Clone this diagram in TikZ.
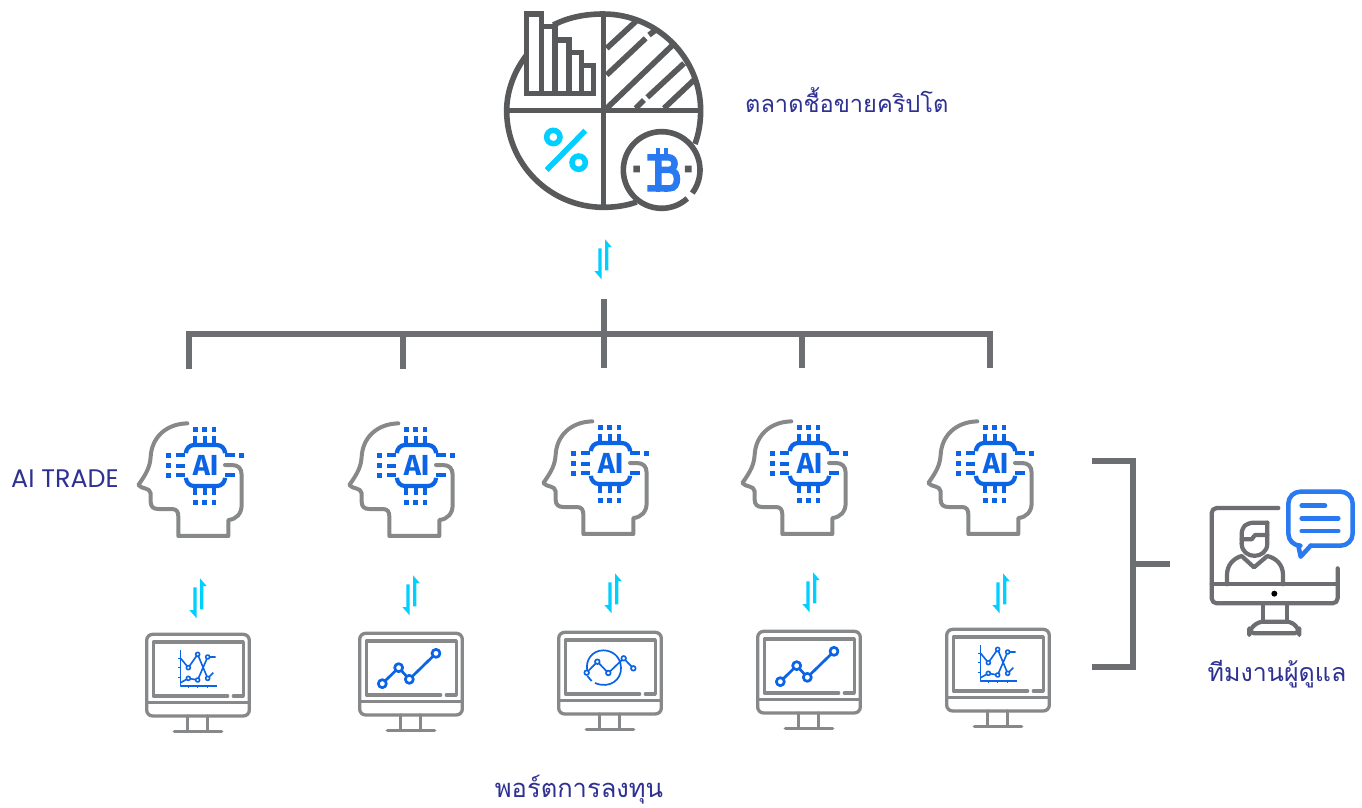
\documentclass[tikz,border=0pt]{standalone}
\usepackage{fontspec}
\setmainfont{Liberation Sans}
\newfontfamily\thaifont[Script=Thai]{Loma}
\newfontfamily\latfont{Poppins}
\newfontfamily\aifont{Fira Sans}
\definecolor{piegray}{HTML}{58595B}
\definecolor{brk}{HTML}{6D6E71}
\definecolor{icongray}{HTML}{87888A}
\definecolor{chipblue}{HTML}{0B63E5}
\definecolor{btcblue}{HTML}{2979F0}
\definecolor{cyanc}{HTML}{00CFFF}
\definecolor{labelc}{HTML}{2E3192}
\tikzset{
  lab/.style={text=labelc,inner sep=0pt},
  thailab/.style={lab,font=\thaifont\fontsize{24.5}{28}\selectfont},
  piel/.style={draw=piegray,line width=5.6pt,line join=miter},
  brkl/.style={draw=brk,line width=6pt},
  headl/.style={draw=icongray,line width=4pt,line join=round,line cap=round},
  scrl/.style={draw=icongray,line width=3.3pt,line join=round,line cap=round},
  chip/.style={draw=chipblue,line width=4.2pt},
  chartl/.style={draw=chipblue,line width=1.4pt,line join=round},
  chartb/.style={draw=chipblue,line width=2.7pt,line join=round},
  chartc/.style={draw=chipblue,line width=1.7pt,line join=round},
  perl/.style={draw=brk,line width=4.2pt,line join=round,line cap=round},
  bubl/.style={draw=btcblue,line width=4.5pt,line join=round,line cap=round},
  zoomed/.style={x=0.3333pt,y=-0.3333pt},
}
\newcommand{\HeadIcon}[3]{%
\begin{scope}[shift={(#1,#2)},zoomed]
 \draw[headl] (172,40) .. controls (105,42) and (65,85) .. (62,140) .. controls (60,170) and (50,190) .. (25,225)
   .. controls (35,238) and (60,232) .. (62,250) -- (62,275) .. controls (62,290) and (70,297) .. (85,297) -- (125,297) .. controls (140,297) and (145,305) .. (145,320)
   -- (145,378) -- (295,378) -- (295,330) .. controls (320,328) and (335,310) .. (335,285) -- (335,195) .. controls (335,175) and (325,165) .. (305,165) -- (285,165);
 \draw[chip,rounded corners=8pt] (168,122) -- (168,105) -- (285,105) -- (285,122);
 \draw[chip,rounded corners=8pt] (168,208) -- (168,228) -- (285,228) -- (285,208);
 \draw[chip] (196,78)--(196,105) (224,78)--(224,105) (252,78)--(252,105)
   (196,228)--(196,255) (224,228)--(224,255) (252,228)--(252,255)
   (138,136)--(166,136) (138,167)--(166,167) (138,196)--(166,196)
   (285,136)--(315,136) (285,196)--(315,196);
 \foreach \p in {196,224,252}{\fill[chipblue] (\p-7,51) rectangle +(14,14); \fill[chipblue] (\p-7,270) rectangle +(14,14);}
 \foreach \p in {136,167,196}{\fill[chipblue] (108,\p-7) rectangle +(15,14);}
 \fill[chipblue] (328,129) rectangle +(15,14);
 \node[inner sep=0pt,text=chipblue,font=\aifont\bfseries\fontsize{29}{29}\selectfont] (#3) at (227,166) {AI};
\end{scope}}
\newcommand{\MonitorBase}{%
 \draw[scrl,rounded corners=6pt] (35,395)--(35,190)--(343,190)--(343,435)--(35,435)--cycle;
 \draw[scrl] (35,395)--(343,395);
 \draw[scrl] (278,375)--(55,375)--(55,213)--(325,213)--(325,375)--(295,375);
 \draw[scrl] (158,435)--(158,480) (218,435)--(218,480) (118,482)--(260,482);
}
\newcommand{\ChartA}{%
 \draw[chartl,line width=1.6pt] (137,237)--(137,345)--(245,345) (130,262)--(137,262) (130,290)--(137,290) (130,320)--(137,320) (160,345)--(160,352) (188,345)--(188,352) (218,345)--(218,352);
 \draw[chartl,line width=1.6pt] (137,262)--(160,290)--(188,250)--(218,322)--(235,305) (137,335)--(160,322)--(188,327)--(218,258)--(242,258);
 \foreach \a/\b in {160/290,188/250,218/322,160/322,188/327,218/258}{\fill[white] (\a,\b) circle[radius=6]; \draw[chartl,line width=1.6pt] (\a,\b) circle[radius=6];}
}
\newcommand{\ChartB}{%
 \draw[chartb] (97,188)--(146,140)--(178,175)--(258,97);
 \foreach \a/\b in {97/188,146/140,178/175,258/97}{\fill[white] (\a,\b) circle[radius=12]; \draw[chartb] (\a,\b) circle[radius=12];}
}
\newcommand{\ChartC}{%
 \draw[chartc] (735,186) .. controls (780,205) and (815,175) .. (813,140) .. controls (812,105) and (785,88) .. (760,88) .. controls (725,88) and (705,120) .. (712,150);
 \draw[chartc] (712,165)--(725,180);
 \draw[chartc] (710,155)--(742,122)--(775,156)--(821,112)--(850,142);
 \foreach \a/\b in {710/155,742/122,775/156,821/112,850/142}{\fill[white] (\a,\b) circle[radius=7]; \draw[chartc] (\a,\b) circle[radius=7];}
}
\newcommand{\UpDown}[2]{%
 \begin{scope}[shift={(#1,#2)},zoomed]
 \fill[cyanc] (6,34)--(6,-59)--(26,-36)--(16,-36)--(16,34)--cycle;
 \fill[cyanc] (-14,-32)--(-4,-32)--(-4,61)--(-26,36)--(-14,36)--cycle;
 \end{scope}}
\begin{document}
\begin{tikzpicture}[x=1pt,y=-1pt]
\useasboundingbox (0,0) rectangle (1362,807);
\fill[white] (0,0) rectangle (1362,807);
% ---- pie ----
\begin{scope}[shift={(490,0)},zoomed]
 \draw[piel] (190,75) .. controls (235,52) and (285,42) .. (340,42) .. controls (500,42) and (632,172) .. (632,332) .. controls (632,365) and (627,400) .. (615,432);
 \draw[piel] (110,165) .. controls (75,210) and (50,270) .. (50,332) .. controls (50,492) and (180,622) .. (340,622) .. controls (375,622) and (410,617) .. (440,606);
 \draw[piel] (340,42)--(340,622) (55,332)--(628,332);
 \draw[piel] (110,42)--(155,42)--(155,80)--(195,80)--(195,120)--(237,120)--(237,158)--(275,158)--(275,197)--(310,197)--(310,280)--(110,280)--cycle;
 \draw[piel] (155,80)--(155,280) (195,120)--(195,280) (237,158)--(237,280) (275,197)--(275,280);
 \draw[piel] (350,145)--(440,62) (350,225)--(467,115) (477,105)--(500,88)
   (350,325)--(548,135) (437,325)--(462,300) (472,292)--(582,190) (522,325)--(612,240);
 \draw[piel] (515,510) ++(48:115) arc[start angle=48,end angle=397,radius=115];
 \fill[piegray] (430,497) rectangle +(20,20) (585,497) rectangle +(20,20);
 % percent
 \draw[cyanc,line width=5.5pt] (190,411) circle[radius=20] (266,488) circle[radius=20] (286,392)--(170,510);
 % bitcoin
 \draw[btcblue,line width=6.5pt,line join=miter] (472,472)--(535,472) .. controls (560,472) and (560,510) .. (535,510) -- (505,510) (535,510) -- (540,510) .. controls (568,510) and (568,565) .. (540,565) -- (472,565) (505,472)--(505,565);
 \draw[btcblue,line width=4pt] (505,445)--(505,472) (527,445)--(527,472) (505,565)--(505,575) (527,565)--(527,575);
\end{scope}
% ---- labels ----
\node[thailab,anchor=west,font=\thaifont\fontsize{23.6}{28}\selectfont] (market) at (745,100) {ตลาดชื้อขายคริปโต};
\node[lab,anchor=west,font=\latfont\fontsize{25.4}{28}\selectfont] (aitrade) at (11,479) {AI TRADE};
\node[thailab,font=\thaifont\fontsize{25.5}{28}\selectfont] (port) at (579,790) {พอร์ตการลงทุน};
\node[thailab,font=\thaifont\fontsize{25}{28}\selectfont] (team) at (1277,674) {ทีมงานผู้ดูแล};
% ---- tree ----
\draw[brkl] (189,369)--(189,334)--(990,334)--(990,368);
\draw[brkl] (403,334)--(403,369) (603.5,299)--(603.5,368) (801.5,334)--(801.5,368);
\draw[brkl] (1092,461)--(1133,461)--(1133,667)--(1092,667) (1133,564)--(1170,564);
% ---- arrows ----
\UpDown{603}{259}
\UpDown{198}{598}
\UpDown{411}{595}
\UpDown{613}{593}
\UpDown{811}{592}
\UpDown{1001}{593}
% ---- heads ----
\HeadIcon{130}{410}{aia}
\HeadIcon{341}{410}{aib}
\HeadIcon{535}{408}{aic}
\HeadIcon{734}{408}{aid}
\HeadIcon{920}{408}{aie}
% ---- monitors ----
\begin{scope}[shift={(135,571)},zoomed]\MonitorBase\ChartA\end{scope}
\begin{scope}[shift={(348,570)},zoomed]\MonitorBase\begin{scope}[shift={(6,153)}]\ChartB\end{scope}\end{scope}
\begin{scope}[shift={(547,569)},zoomed]\MonitorBase\begin{scope}[shift={(-591,156)}]\ChartC\end{scope}\end{scope}
\begin{scope}[shift={(746,568)},zoomed]\MonitorBase\begin{scope}[shift={(6,153)}]\ChartB\end{scope}\end{scope}
\begin{scope}[shift={(935,566)},zoomed]\MonitorBase\ChartA\end{scope}
% ---- team ----
\begin{scope}[shift={(1190,480)},zoomed]
 \draw[perl,rounded corners=5pt] (265,84)--(65,84)--(65,370)--(443,370)--(443,265);
 \draw[perl] (65,313)--(443,313);
 \draw[perl] (220,370)--(220,425) (290,370)--(290,425);
 \draw[perl,rounded corners=5pt] (178,460)--(178,450)--(205,425)--(305,425)--(328,450)--(328,460)--cycle;
 \fill[black] (253,341) circle[radius=9];
 \draw[perl] (111,313)--(111,285) .. controls (111,255) and (130,235) .. (155,228) -- (192,262) -- (232,228) .. controls (260,235) and (279,255) .. (279,285) -- (279,313);
 \draw[perl,rounded corners=5pt] (232,128)--(175,128)--(155,145)--(155,190);
 \draw[perl] (232,128)--(232,190) .. controls (232,240) and (155,240) .. (155,190);
 \draw[perl] (155,178)--(185,178)--(195,165)--(232,165);
 \draw[bubl,rounded corners=12pt] (325,197)--(295,197)--(295,35)--(488,35)--(488,197)--(362,197);
 \draw[bubl] (325,197)--(332,230)--(362,197);
 \draw[bubl] (335,77)--(405,77) (335,115)--(445,115) (335,153)--(445,153);
\end{scope}
\end{tikzpicture}
\end{document}
